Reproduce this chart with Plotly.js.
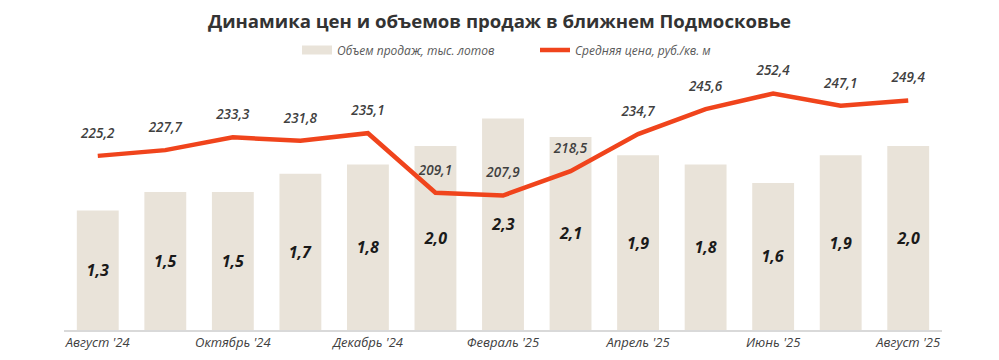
<!DOCTYPE html>
<html>
<head>
<meta charset="utf-8">
<script src="https://cdn.plot.ly/plotly-3.0.1.min.js"></script>
<style>html,body{margin:0;padding:0;background:#fff;}#chart{width:999px;height:360px;}</style>
</head>
<body>
<div id="chart"></div>
<script>
const months = ["Август '24","Сентябрь '24","Октябрь '24","Ноябрь '24","Декабрь '24","Январь '25","Февраль '25","Март '25","Апрель '25","Май '25","Июнь '25","Июль '25","Август '25"];
const volume = [1.3,1.5,1.5,1.7,1.8,2.0,2.3,2.1,1.9,1.8,1.6,1.9,2.0];
const price = [225.2,227.7,233.3,231.8,235.1,209.1,207.9,218.5,234.7,245.6,252.4,247.1,249.4];
const tickMonths = ["Август '24","Октябрь '24","Декабрь '24","Февраль '25","Апрель '25","Июнь '25","Август '25"];

const fmt = v => v.toFixed(1).replace('.', ',');
const barColor = '#e9e3d9';
const lineColor = '#f0441c';

const traces = [
  {
    type: 'bar', x: months, y: volume, name: 'Объем продаж, тыс. лотов',
    marker: {color: barColor}, showlegend: false,
    text: volume.map(fmt), textposition: 'inside', insidetextanchor: 'middle',
    textangle: 0,
    textfont: {family: 'Open Sans, sans-serif', size: 16, color: '#1a1a1a', weight: 700, style: 'italic'},
    hoverinfo: 'skip'
  },
  {
    type: 'scatter', mode: 'lines', x: [months[0]], y: [null], name: 'Объем продаж, тыс. лотов',
    line: {color: barColor, width: 9}, hoverinfo: 'skip'
  },
  {
    type: 'scatter', mode: 'lines+markers+text', x: months, y: price, yaxis: 'y2',
    name: 'Средняя цена, руб./кв. м',
    line: {color: lineColor, width: 4.5},
    marker: {size: 22, color: 'rgba(0,0,0,0)'},
    text: price.map(fmt), textposition: 'top center',
    textfont: {family: 'Open Sans, sans-serif', size: 13.5, color: '#404040', weight: 600, style: 'italic'},
    hoverinfo: 'skip', cliponaxis: false
  }
];

const layout = {
  width: 999, height: 360,
  margin: {l: 64, r: 57, t: 60, b: 30},
  paper_bgcolor: '#fff', plot_bgcolor: '#fff',
  bargap: 0.38,
  title: {text: 'Динамика цен и объемов продаж в ближнем Подмосковье',
          font: {family: 'Open Sans, sans-serif', size: 18.6, color: '#333333', weight: 700},
          x: 0.5, xanchor: 'center', xref: 'container', y: 0.94, yanchor: 'middle', yref: 'container'},
  showlegend: true,
  legend: {orientation: 'h', x: 297/999, xanchor: 'left', xref: 'container', y: 1 - 50/360, yref: 'container', yanchor: 'middle',
           entrywidth: 193, entrywidthmode: 'pixels',
           font: {family: 'Open Sans, sans-serif', size: 12, color: '#595959', style: 'italic'},
           traceorder: 'normal'},
  xaxis: {type: 'category', tickmode: 'array', tickvals: tickMonths, ticktext: tickMonths,
          range: [-0.5, months.length - 0.5], autorange: false,
          showgrid: false, showline: true, linecolor: '#d9d9d9', linewidth: 1.5,
          ticks: '', zeroline: false, fixedrange: true, automargin: false,
          tickfont: {family: 'Open Sans, sans-serif', size: 13, color: '#404040', style: 'italic'}},
  yaxis: {range: [0, 270/93.5], visible: false, showgrid: false, zeroline: false, fixedrange: true},
  yaxis2: {range: [149.2, 149.2 + 270/2.33], overlaying: 'y', side: 'right', visible: false, showgrid: false, zeroline: false, fixedrange: true}
};

Plotly.newPlot('chart', traces, layout, {displayModeBar: false, staticPlot: true});
</script>
</body>
</html>
